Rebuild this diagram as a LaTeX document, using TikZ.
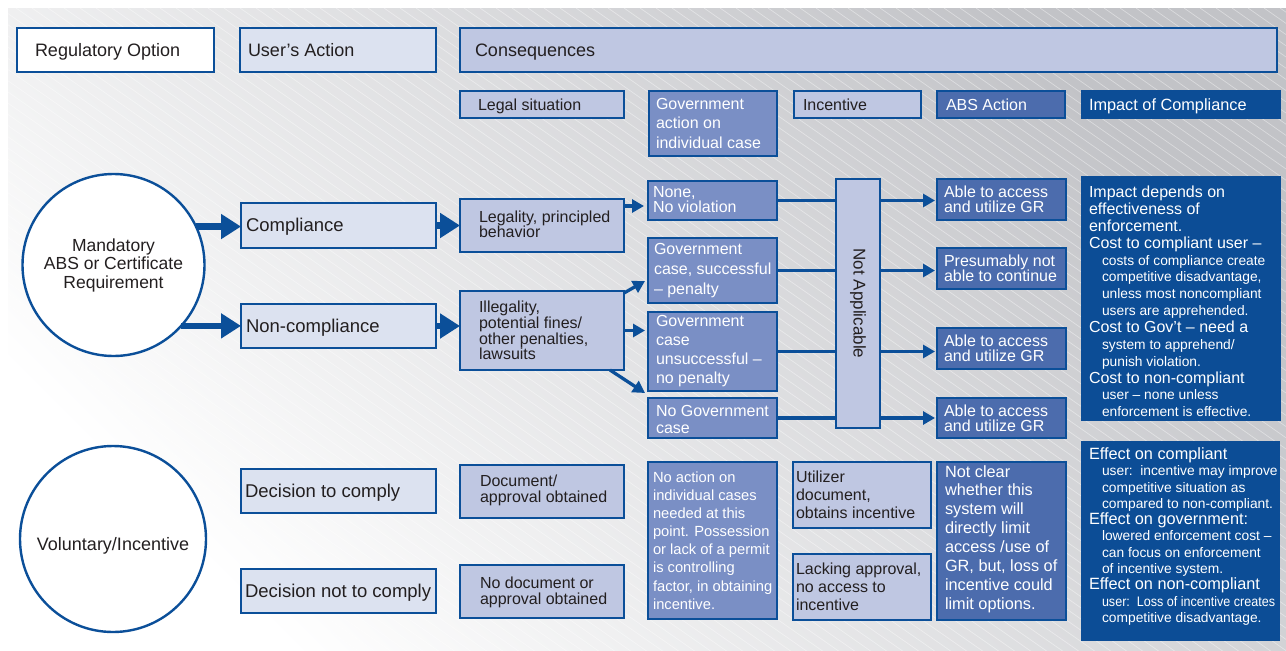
\documentclass[tikz,border=0pt]{standalone}
\usepackage{fontspec}
\usepackage{graphicx}
\setmainfont{Liberation Sans}
\usetikzlibrary{arrows.meta}

\definecolor{edge}{RGB}{11,79,153}
\definecolor{paleblue}{RGB}{220,226,240}
\definecolor{lilac}{RGB}{191,199,226}
\definecolor{govblue}{RGB}{122,143,197}
\definecolor{absblue}{RGB}{76,108,173}
\definecolor{deepblue}{RGB}{12,77,150}
\definecolor{ink}{RGB}{35,31,32}
\definecolor{bgdark}{RGB}{194,195,199}

% font size / baseline skip
\newcommand\setfs[2]{\fontsize{#1}{#2}\selectfont\lineskiplimit=-20pt\relax}
% indented smaller line inside the impact boxes
\newcommand\subline[1]{\hspace*{13pt}{\setfs{13.8}{16}#1}}

% box: name, fill style, x1, y1, x2, y2, text options, text
\newcommand\abox[8]{%
  \node[boxbase,#2,minimum width={#5-#3},minimum height={#6-#4},anchor=north west] (#1) at (#3,#4) {};
  \node[txt,#7] (#1t) at (#1.west) {#8};
}

\begin{document}
\begin{tikzpicture}[x=1pt,y=-1pt,
  boxbase/.style={draw=edge,line width=2.4pt,inner sep=0pt,outer sep=0pt},
  plainbox/.style={fill=white},
  pale/.style={fill=paleblue},
  lilacbox/.style={fill=lilac},
  gov/.style={fill=govblue},
  absbox/.style={fill=absblue},
  deep/.style={fill=deepblue,draw=deepblue},
  txt/.style={anchor=west,inner sep=0pt,outer sep=0pt,align=left,text=ink,font=\setfs{16}{15}},
  wt/.style={text=white},
  big/.style={draw=edge,line width=6.5pt,-{Triangle[length=20pt,width=24pt]}},
  thinarrow/.style={draw=edge,line width=3.3pt,-{Triangle[length=12pt,width=13pt]}},
  link/.style={draw=edge,line width=3.3pt},
  hatch/.style={draw=white,line width=0.7pt,opacity=0.4},
  roundshape/.style={circle,draw=edge,line width=2.4pt,fill=white,inner sep=0pt,outer sep=0pt,align=center,text=ink}
]
\useasboundingbox (0,0) rectangle (1286,651);

% backdrop: diagonal grey gradient with fine light hatching
\shade[top color=bgdark,bottom color=white,shading angle=-45] (8,8) rectangle (1286,651);
\begin{scope}
  \clip (8,8) rectangle (1286,651);
  \foreach \i in {-62,...,81} \draw[hatch] (\i*16,8) -- ++(1000,700);
\end{scope}

% column headers
\abox{hReg}{plainbox}{17}{28}{214}{72}{xshift=18pt,yshift=-2pt,font=\setfs{18}{20}}{Regulatory Option}
\abox{hUser}{pale}{240}{28}{436}{72}{xshift=8pt,font=\setfs{18}{20}}{User’s Action}
\abox{hCons}{lilacbox}{460}{28}{1277}{72}{xshift=15pt,yshift=-2pt,font=\setfs{18}{20}}{Consequences}
\abox{hLegal}{lilacbox}{460}{91}{624}{118}{xshift=18pt,yshift=-1.5pt}{Legal situation}
\abox{hGov}{gov}{649}{91}{777}{156}{wt,xshift=7pt,yshift=0.5pt,font=\setfs{16}{19.5}}{Government\\action on\\individual case}
\abox{hInc}{lilacbox}{794}{91}{921}{118}{xshift=9pt}{Incentive}
\abox{hAbs}{absbox}{937}{91}{1065}{118}{wt,xshift=9pt}{ABS Action}
\abox{hImp}{deep}{1082}{91}{1280}{118}{wt,xshift=7pt,yshift=-1.5pt,font=\setfs{16.3}{18}}{Impact of Compliance}

% mandatory branch
\node[roundshape,minimum size=182pt,font=\setfs{17.5}{18.5}] (mand) at (113.5,265) {Mandatory\\ABS or Certificate\\Requirement};
\abox{comp}{pale}{241}{203}{436}{248}{xshift=5pt,yshift=-1.5pt,font=\setfs{18.5}{20}}{Compliance}
\abox{noncomp}{pale}{241}{304}{436}{348}{xshift=5pt,yshift=-2pt,font=\setfs{18.5}{20}}{Non-compliance}
\abox{legal}{lilacbox}{460}{199}{624}{252}{xshift=19pt,yshift=1pt}{Legality, principled\\behavior}
\abox{illegal}{lilacbox}{460}{291}{624}{370}{xshift=19pt,font=\setfs{16}{15.6}}{Illegality,\\potential fines/\\other penalties,\\lawsuits}
\abox{none}{gov}{648}{181}{777}{220}{wt,xshift=5pt,yshift=1pt}{None,\\No violation}
\abox{g1}{gov}{648}{238}{777}{303}{wt,xshift=6pt,font=\setfs{16}{20}}{Government\\case, successful\\– penalty}
\abox{g2}{gov}{648}{312}{777}{391}{wt,xshift=8pt,font=\setfs{16}{19}}{Government\\case\\unsuccessful –\\no penalty}
\abox{g3}{gov}{648}{398}{777}{438}{wt,xshift=8pt,yshift=-1pt,font=\setfs{16}{17}}{No Government\\case}
\abox{na}{lilacbox}{836}{179}{880}{428}{xshift=0pt}{}
\node[text=ink,rotate=-90,font=\setfs{17}{19},inner sep=0pt] (nalabel) at (na.center) {Not Applicable};
\abox{a1}{absbox}{937}{179}{1066}{220}{wt,xshift=7pt}{Able to access\\and utilize GR}
\abox{a2}{absbox}{937}{248}{1066}{289}{wt,xshift=7pt}{Presumably not\\able to continue}
\abox{a3}{absbox}{937}{328}{1066}{369}{wt,xshift=7pt}{Able to access\\and utilize GR}
\abox{a4}{absbox}{937}{398}{1066}{438}{wt,xshift=7pt}{Able to access\\and utilize GR}
\abox{imp1}{deep}{1082}{177}{1280}{420}{wt,xshift=7pt,yshift=-3pt,font=\setfs{16}{16.85}}{Impact depends on\\effectiveness of\\enforcement.\\Cost to compliant user –\\\subline{costs of compliance create}\\\subline{competitive disadvantage,}\\\subline{unless most noncompliant}\\\subline{users are apprehended.}\\Cost to Gov’t – need a\\\subline{system to apprehend/}\\\subline{punish violation.}\\Cost to non-compliant\\\subline{user – none unless}\\\subline{enforcement is effective.}}

% voluntary branch
\node[roundshape,minimum size=186pt,font=\setfs{18}{20},text height=25pt,text depth=2pt] (vol) at (113,539) {Voluntary/Incentive};
\abox{dc}{pale}{241}{469}{436}{513}{xshift=4pt,yshift=-2pt,font=\setfs{18.5}{20}}{Decision to comply}
\abox{dnc}{pale}{241}{569}{436}{613}{xshift=4pt,yshift=-2pt,font=\setfs{18.5}{20}}{Decision not to comply}
\abox{doc}{lilacbox}{460}{465}{624}{518}{xshift=20pt,yshift=1.5pt,font=\setfs{16}{16}}{Document/\\approval obtained}
\abox{nodoc}{lilacbox}{460}{565}{624}{618}{xshift=20pt,yshift=-1pt,font=\setfs{16}{16}}{No document or\\approval obtained}
\abox{noact}{gov}{648}{462}{777}{619}{wt,xshift=5pt,font=\setfs{14.7}{18.1}}{No action on\\individual cases\\needed at this\\point. Possession\\or lack of a permit\\is controlling\\factor, in obtaining\\incentive.}
\abox{util}{lilacbox}{793}{462}{931}{528}{xshift=3pt,font=\setfs{16}{18}}{Utilizer\\document,\\obtains incentive}
\abox{lack}{lilacbox}{793}{554}{931}{620}{xshift=3pt,font=\setfs{16}{18}}{Lacking approval,\\no access to\\incentive}
\abox{notclear}{absbox}{937}{462}{1066}{620}{wt,xshift=8pt,yshift=2pt,font=\setfs{16.3}{18.9}}{Not clear\\whether this\\system will\\directly limit\\access /use of\\GR, but, loss of\\incentive could\\limit options.}
\abox{imp2}{deep}{1082}{442}{1279}{640}{wt,xshift=7pt,yshift=4.5pt,font=\setfs{16.3}{16.3}}{Effect on compliant\\\subline{user:\ \ incentive may improve}\\\subline{competitive situation as}\\\subline{compared to non-compliant.}\\Effect on government:\\\subline{lowered enforcement cost –}\\\subline{can focus on enforcement}\\\subline{of incentive system.}\\Effect on non-compliant\\\subline{\scalebox{0.91}[1]{user:\ \ Loss of incentive creates}}\\\subline{competitive disadvantage.}}

% connectors
\draw[big] (mand.25.7) -- (mand.25.7 -| comp.west);
\draw[big] (mand.-42.1) -- (mand.-42.1 -| noncomp.west);
\draw[big] (comp.east) -- (comp.east -| legal.west);
\draw[big] (noncomp.east) -- (noncomp.east -| illegal.west);

\coordinate (lg) at ([yshift=-5.5pt]none.west);
\draw[thinarrow,shorten >=4pt] (lg -| legal.east) -- (lg);
\draw[thinarrow] ([yshift=-2pt]illegal.north east) -- ([xshift=-3pt,yshift=22pt]g1.south west);
\draw[thinarrow,shorten >=3pt] (illegal.east) -- (illegal.east -| g2.west);
\draw[thinarrow] ([xshift=-14pt]illegal.south east) -- ([xshift=-3pt,yshift=5pt]g3.north west);

\draw[link] (none.east) -- (none.east -| na.west);
\draw[link] (g1.east) -- (g1.east -| na.west);
\draw[link] (g2.east) -- (g2.east -| na.west);
\draw[link] (g3.east) -- (g3.east -| na.west);
\draw[thinarrow,shorten >=2pt] (none.east -| na.east) -- (none.east -| a1.west);
\draw[thinarrow,shorten >=2pt] (g1.east -| na.east) -- (g1.east -| a2.west);
\draw[thinarrow,shorten >=2pt] (g2.east -| na.east) -- (g2.east -| a3.west);
\draw[thinarrow,shorten >=2pt] (g3.east -| na.east) -- (g3.east -| a4.west);
\end{tikzpicture}
\end{document}
